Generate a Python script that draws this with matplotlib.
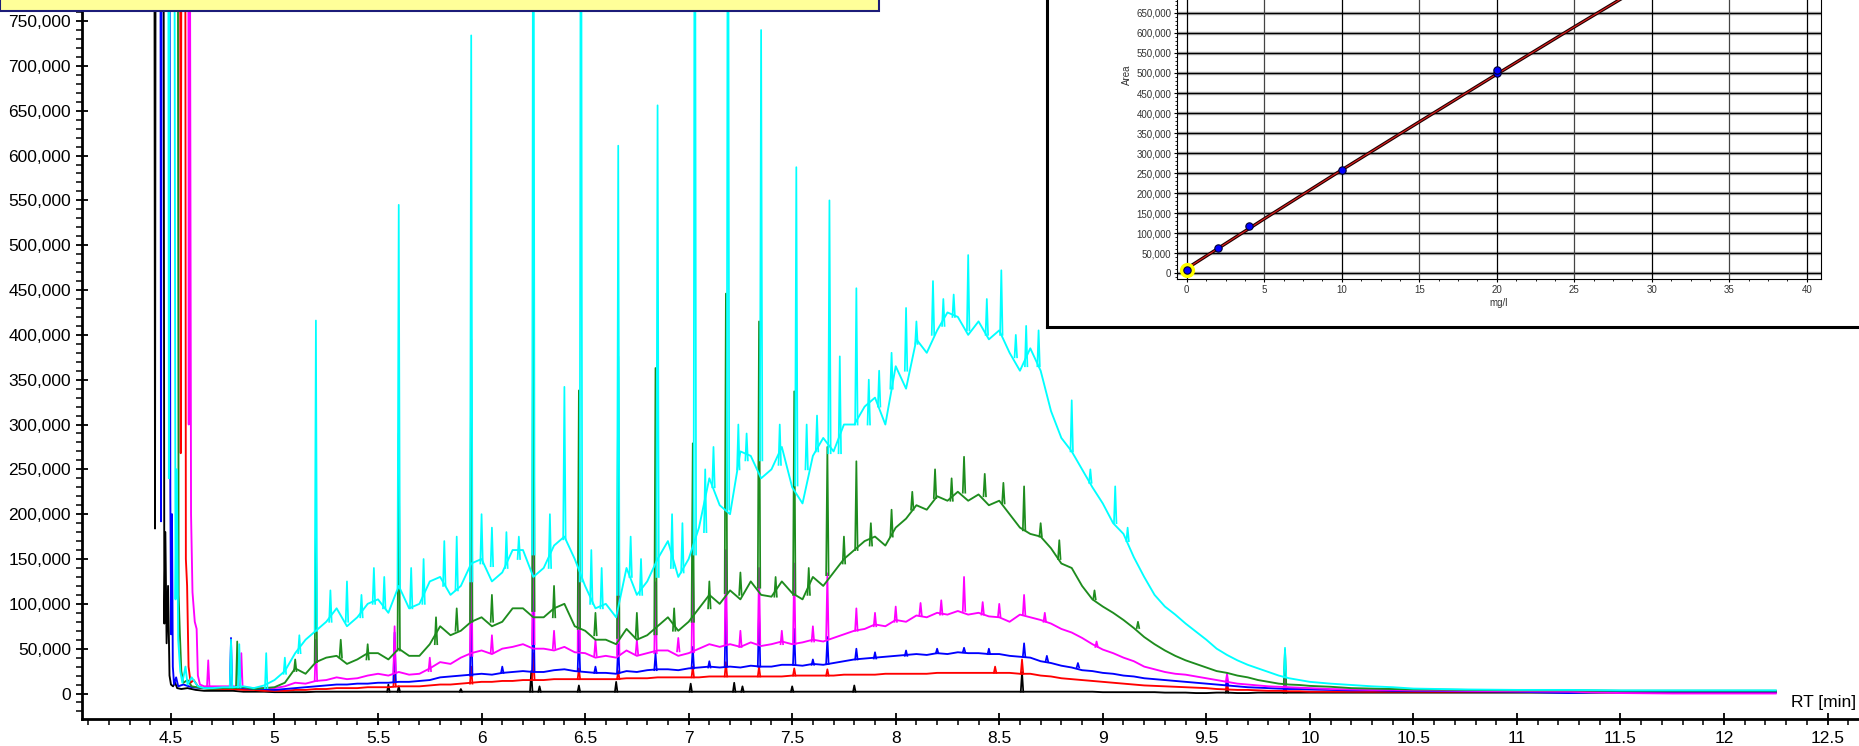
import matplotlib
matplotlib.use("Agg")
import matplotlib.pyplot as plt
from matplotlib.patches import Rectangle
from matplotlib.ticker import MultipleLocator, FixedLocator, FuncFormatter

plt.rcParams['font.family'] = ['Liberation Sans', 'DejaVu Sans']

rt = [4.70, 4.75, 4.80, 4.85, 4.90, 4.95, 5.00, 5.05, 5.10, 5.15,
      5.20, 5.25, 5.30, 5.35, 5.40, 5.45, 5.50, 5.55, 5.60, 5.65,
      5.70, 5.75, 5.80, 5.85, 5.90, 5.95, 6.00, 6.05, 6.10, 6.15,
      6.20, 6.25, 6.30, 6.35, 6.40, 6.45, 6.50, 6.55, 6.60, 6.65,
      6.70, 6.75, 6.80, 6.85, 6.90, 6.95, 7.00, 7.05, 7.10, 7.15,
      7.20, 7.25, 7.30, 7.35, 7.40, 7.45, 7.50, 7.55, 7.60, 7.65,
      7.70, 7.75, 7.80, 7.85, 7.90, 7.95, 8.00, 8.05, 8.10, 8.15,
      8.20, 8.25, 8.30, 8.35, 8.40, 8.45, 8.50, 8.55, 8.60, 8.65,
      8.70, 8.75, 8.80, 8.85, 8.90, 8.95, 9.00, 9.05, 9.10, 9.15,
      9.20, 9.25, 9.30, 9.35, 9.40, 9.45, 9.50, 9.55, 9.60, 9.65,
      9.70, 9.75, 9.80, 9.85, 9.90, 9.95, 10.00,
      10.1, 10.2, 10.3, 10.4, 10.5, 10.75, 11.0, 11.25, 11.5, 11.75, 12.0, 12.25]

# hump intensities, in thousands of counts
black_k = [3, 3, 3, 2, 2, 2, 1.5, 1.5, 1.5, 1.5,
           2, 2, 2, 2, 2, 2, 2, 2, 2, 2,
           2, 2, 2, 2, 2, 2, 2, 2, 2, 2,
           2, 2, 2, 2, 2, 2, 2, 2, 2, 2,
           2, 2, 2, 2, 2, 2, 2, 2, 2, 2,
           2, 2, 2, 2, 2, 2, 2, 2, 2, 2,
           2, 2, 2, 2, 2, 2, 2, 2, 2, 2,
           2, 2, 2, 2, 2, 2, 2, 2, 2, 2,
           2, 2, 2, 2, 2, 2, 1.5, 1.5, 1.5, 1.5,
           1.5, 1.5, 1, 1, 1, 0.5, 0.5, 1, 1, 0.5,
           0.5, 1, 1, 1, 1, 1, 1,
           1, 1, 1, 1, 1, 1, 1, 1, 1, 1, 1, 1]
red_k = [5, 5, 5, 4, 4, 3, 3, 3, 4, 4,
         5, 5, 6, 6, 6, 7, 7, 7, 8, 8,
         8, 9, 10, 10, 11, 12, 13, 13, 14, 14,
         15, 15, 15, 16, 16, 16, 16, 16, 16, 16,
         17, 17, 17, 18, 18, 18, 18, 18, 19, 19,
         19, 19, 19, 19, 19, 19, 20, 20, 20, 20,
         20, 21, 21, 21, 21, 22, 22, 22, 22, 22,
         23, 23, 23, 23, 23, 23, 23, 23, 22, 22,
         20, 19, 17, 16, 15, 14, 13, 12, 11, 10,
         9, 8.5, 8, 7.5, 7, 6.5, 6, 5, 4.5, 4,
         4, 3.5, 3, 3, 2.5, 2.5, 2,
         2, 2, 2, 2, 2, 2, 2, 2, 2, 2, 2, 2]
blue_k = [6, 6, 7, 6, 5, 5, 4, 5, 6, 7,
          8, 9, 10, 10, 11, 11, 12, 12, 13, 13,
          14, 15, 18, 19, 20, 21, 22, 21, 23, 24,
          25, 24, 24, 26, 27, 25, 24, 23, 23, 22,
          25, 24, 26, 27, 27, 26, 28, 29, 30, 29,
          30, 29, 31, 30, 30, 32, 32, 31, 33, 32,
          34, 36, 38, 39, 40, 41, 42, 43, 44, 43,
          45, 44, 46, 45, 45, 44, 44, 42, 41, 40,
          36, 34, 31, 29, 26, 25, 23, 22, 20, 19,
          17, 16, 15, 14, 13, 12, 11, 10, 9, 8,
          7, 6.5, 6, 5.5, 5, 5, 4.5,
          4, 3.5, 3.5, 3, 3, 2.5, 2, 0.5, 2, 2, 2, 2]
magenta_k = [8, 8, 8, 7, 6, 6, 6, 8, 12, 11,
             14, 15, 18, 16, 17, 20, 22, 20, 24, 21,
             22, 28, 35, 33, 40, 45, 48, 44, 50, 52,
             55, 50, 50, 48, 52, 46, 45, 40, 42, 40,
             48, 42, 45, 48, 48, 42, 45, 50, 55, 52,
             55, 52, 57, 53, 55, 58, 55, 57, 60, 58,
             62, 66, 70, 72, 77, 75, 82, 80, 87, 85,
             90, 88, 92, 88, 90, 86, 85, 80, 88, 85,
             82, 78, 72, 68, 62, 55, 49, 45, 40, 36,
             30, 27, 24, 22, 21, 19, 17, 15, 13, 11,
             10, 9, 8, 7.5, 7, 6.5, 6,
             5, 4.5, 4, 4, 3.5, 3, 2.5, 2, 0.5, 0, 0, 0]
green_k = [5, 6, 6, 7, 5, 6, 7, 12, 28, 22,
           35, 40, 42, 33, 38, 45, 45, 38, 50, 42,
           42, 55, 75, 65, 70, 80, 85, 75, 80, 95,
           95, 85, 85, 95, 100, 75, 70, 60, 60, 55,
           72, 60, 65, 75, 85, 70, 80, 95, 110, 100,
           115, 105, 125, 110, 108, 125, 112, 105, 130, 120,
           135, 150, 160, 170, 175, 165, 185, 195, 210, 205,
           220, 215, 225, 215, 222, 210, 215, 200, 185, 178,
           175, 162, 145, 140, 120, 105, 97, 90, 82, 73,
           63, 55, 48, 42, 37, 33, 29, 25, 23, 20,
           18, 15, 13, 11, 10, 9.5, 8.5,
           7.5, 6, 5.5, 5, 4.5, 4, 3.5, 3.5, 3, 3, 3, 3]
cyan_k = [6, 7, 7, 8, 6, 9, 15, 25, 45, 60,
          70, 80, 95, 75, 85, 100, 105, 90, 120, 95,
          100, 125, 130, 110, 120, 145, 150, 125, 135, 160,
          160, 130, 140, 165, 175, 150, 120, 95, 100, 85,
          140, 110, 125, 150, 170, 130, 150, 185, 240, 210,
          200, 270, 265, 240, 250, 275, 230, 212, 265, 285,
          270, 300, 300, 320, 330, 300, 365, 340, 395, 380,
          405, 425, 420, 400, 415, 395, 405, 380, 360, 385,
          360, 315, 285, 270, 250, 230, 212, 190, 178, 152,
          130, 110, 97, 88, 78, 69, 60, 50, 43, 37,
          32, 28, 24, 20, 17, 15, 13,
          11, 9.5, 8, 7, 5.5, 4.5, 4, 4, 3.5, 3.5, 3.5, 3.5]

# solvent front (rt, thousands); 1200 = off scale
black_front = [(4.419, 1200), (4.423, 184), (4.427, 1200), (4.463, 1200), (4.468, 78),
               (4.473, 180), (4.479, 56), (4.486, 120), (4.493, 20), (4.50, 10),
               (4.51, 8), (4.52, 12), (4.53, 6), (4.55, 5), (4.58, 6), (4.62, 4), (4.66, 3)]
red_front = [(4.543, 1200), (4.547, 268), (4.552, 1200), (4.568, 1200), (4.572, 150),
             (4.578, 120), (4.585, 30), (4.595, 12), (4.61, 15), (4.63, 8), (4.66, 6)]
blue_front = [(4.448, 1200), (4.452, 192), (4.456, 1200), (4.492, 1200), (4.497, 220),
              (4.501, 66), (4.505, 200), (4.509, 30), (4.515, 10), (4.525, 18),
              (4.535, 8), (4.56, 10), (4.60, 7), (4.65, 6)]
magenta_front = [(4.583, 1200), (4.586, 300), (4.589, 1200), (4.597, 200), (4.604, 113),
                 (4.615, 80), (4.624, 72), (4.63, 20), (4.64, 10), (4.66, 8)]
green_front = [(4.525, 1200), (4.532, 1200), (4.537, 110), (4.543, 67), (4.55, 25),
               (4.56, 12), (4.58, 15), (4.60, 8), (4.65, 6)]
cyan_front = [(4.486, 1200), (4.490, 240), (4.495, 1200), (4.515, 1200), (4.522, 105),
              (4.528, 250), (4.535, 60), (4.545, 25), (4.555, 12), (4.57, 30),
              (4.58, 10), (4.60, 18), (4.63, 8), (4.66, 6)]

# sharp peaks: (rt, foot, apex) in thousands
black_peaks = [(5.55, 2, 10), (5.60, 2, 8), (5.90, 2, 5), (6.24, 2, 25), (6.28, 2, 8),
               (6.47, 2, 9), (6.65, 2, 13), (7.01, 2, 11), (7.22, 2, 12), (7.26, 2, 8),
               (7.50, 2, 8), (7.80, 2, 9), (8.61, 2, 24), (9.60, 1, 8), (9.88, 1, 35)]
red_peaks = [(5.58, 8, 25), (5.95, 11, 30), (6.25, 15, 45), (6.47, 16, 28), (6.66, 16, 25),
             (7.02, 18, 30), (7.18, 19, 35), (7.34, 19, 30), (7.51, 20, 28), (7.67, 20, 27),
             (8.48, 23, 30), (8.61, 22, 38), (9.60, 4.5, 12), (9.88, 2.5, 19)]
blue_peaks = [(4.79, 7, 62), (5.58, 13, 68), (5.95, 20, 100), (6.10, 23, 30), (6.25, 25, 120),
              (6.47, 25, 70), (6.55, 23, 30), (6.66, 23, 55), (6.84, 26, 45), (7.02, 28, 52),
              (7.10, 29, 36), (7.18, 30, 108), (7.34, 30, 93), (7.51, 32, 72), (7.60, 32, 38),
              (7.67, 33, 63), (7.81, 38, 50), (7.90, 39, 46), (8.05, 42, 48), (8.20, 45, 50),
              (8.33, 46, 51), (8.45, 44, 50), (8.62, 41, 56), (8.73, 36, 42), (8.88, 29, 34),
              (9.60, 9, 16), (9.88, 5, 23)]
magenta_peaks = [(4.68, 8, 37), (4.84, 8, 45), (5.20, 14, 60), (5.58, 23, 75), (5.75, 25, 40),
                 (5.95, 42, 190), (6.05, 45, 65), (6.25, 55, 250), (6.35, 50, 70),
                 (6.47, 48, 212), (6.55, 42, 60), (6.66, 43, 145), (6.75, 44, 60),
                 (6.84, 45, 124), (6.95, 47, 62), (7.02, 46, 160), (7.18, 55, 160),
                 (7.25, 52, 70), (7.34, 56, 140), (7.45, 55, 70), (7.51, 55, 145),
                 (7.60, 58, 75), (7.67, 61, 134), (7.81, 70, 95), (7.90, 75, 90),
                 (8.00, 80, 97), (8.12, 87, 101), (8.22, 88, 104), (8.33, 92, 130),
                 (8.42, 88, 102), (8.50, 86, 100), (8.62, 88, 110), (8.72, 80, 90),
                 (8.97, 52, 58), (9.60, 13, 22), (9.88, 7, 23)]
green_peaks = [(4.82, 6, 58), (5.10, 25, 38), (5.20, 35, 181), (5.32, 40, 60), (5.45, 38, 55),
               (5.60, 48, 290), (5.78, 55, 85), (5.88, 70, 95), (5.95, 80, 395),
               (6.05, 80, 110), (6.25, 92, 500), (6.35, 85, 120), (6.47, 72, 338),
               (6.55, 65, 90), (6.66, 62, 376), (6.75, 62, 90), (6.84, 66, 363),
               (6.93, 70, 95), (7.02, 80, 279), (7.10, 95, 125), (7.18, 112, 446),
               (7.25, 110, 135), (7.34, 118, 415), (7.42, 108, 130), (7.51, 110, 337),
               (7.58, 110, 140), (7.67, 132, 275), (7.75, 145, 175), (7.81, 160, 259),
               (7.88, 165, 190), (7.98, 175, 205), (8.08, 205, 225), (8.19, 218, 250),
               (8.27, 215, 240), (8.33, 224, 264), (8.43, 220, 245), (8.52, 212, 235),
               (8.62, 182, 231), (8.70, 175, 190), (8.79, 150, 171), (8.96, 105, 115),
               (9.17, 73, 80), (9.88, 10, 49)]
cyan_peaks = [(4.79, 7, 60), (4.83, 7, 55), (4.96, 6, 45), (5.05, 22, 40), (5.12, 45, 65),
              (5.20, 70, 416), (5.27, 80, 115), (5.35, 80, 125), (5.42, 85, 110),
              (5.48, 100, 140), (5.53, 95, 130), (5.60, 118, 545), (5.66, 95, 140),
              (5.72, 100, 150), (5.82, 120, 170), (5.88, 115, 175), (5.95, 125, 734),
              (6.00, 145, 200), (6.05, 142, 185), (6.12, 140, 180), (6.18, 150, 175),
              (6.25, 155, 1200), (6.33, 140, 200), (6.40, 172, 342), (6.48, 125, 1200),
              (6.53, 100, 160), (6.58, 95, 140), (6.66, 110, 611), (6.72, 130, 175),
              (6.77, 110, 150), (6.85, 130, 656), (6.92, 140, 200), (6.97, 135, 190),
              (7.03, 155, 1200), (7.08, 180, 250), (7.12, 230, 275), (7.19, 205, 1200),
              (7.24, 250, 300), (7.28, 260, 290), (7.35, 260, 740), (7.44, 255, 300),
              (7.52, 232, 587), (7.57, 250, 300), (7.62, 270, 310), (7.68, 268, 550),
              (7.73, 268, 376), (7.81, 300, 452), (7.87, 300, 350), (7.92, 320, 360),
              (7.98, 340, 380), (8.05, 360, 430), (8.10, 390, 415), (8.18, 400, 460),
              (8.23, 410, 440), (8.28, 420, 445), (8.35, 405, 489), (8.44, 400, 440),
              (8.51, 400, 472), (8.58, 375, 400), (8.63, 365, 410), (8.69, 365, 405),
              (8.85, 270, 327), (8.94, 235, 250), (9.06, 190, 231), (9.12, 170, 185),
              (9.88, 18, 51)]

traces = [
    ('#000000', black_front, black_k, black_peaks),
    ('#FF0000', red_front, red_k, red_peaks),
    ('#0000FF', blue_front, blue_k, blue_peaks),
    ('#FF00FF', magenta_front, magenta_k, magenta_peaks),
    ('#1E8C1E', green_front, green_k, green_peaks),
    ('#00FFFF', cyan_front, cyan_k, cyan_peaks),
]

# calibration inset
cal_conc = [0, 2, 4, 10, 20, 20]
cal_area = [7000, 63000, 117000, 258000, 500000, 507000]
fit_conc = [0, 5, 10, 15, 20, 25, 30]
fit_area = [12000, 136000, 258000, 378000, 497000, 615000, 731000]
cal_yticks = [0, 50000, 100000, 150000, 200000, 250000, 300000, 350000,
              400000, 450000, 500000, 550000, 600000, 650000]

W, H = 1859, 746
fig = plt.figure(figsize=(W / 100, H / 100), dpi=100)

ax = fig.add_axes([81.5 / W, 27 / H, 1 - 81.5 / W, 1 - 27 / H])
for color, front, hump, peaks in traces:
    t = [p[0] for p in front] + rt
    v = [p[1] * 1000 for p in front] + [h * 1000 for h in hump]
    ax.plot(t, v, color=color, lw=1.35)
    for pt, foot, apex in peaks:
        ax.plot([pt - 0.006, pt, pt + 0.006], [foot * 1000, apex * 1000, foot * 1000],
                color=color, lw=1.25)

ax.set_xlim(4.068, 12.652)
ax.set_ylim(-28440, 773480)
ax.spines['top'].set_visible(False)
ax.spines['right'].set_visible(False)
ax.spines['left'].set_linewidth(2)
ax.spines['bottom'].set_linewidth(2)
ax.xaxis.set_major_locator(MultipleLocator(0.5))
ax.xaxis.set_minor_locator(MultipleLocator(0.1))
ax.yaxis.set_major_locator(MultipleLocator(50000))
ax.yaxis.set_minor_locator(MultipleLocator(10000))
ax.xaxis.set_major_formatter(FuncFormatter(lambda v, p: f'{v:g}'))
ax.yaxis.set_major_formatter(FuncFormatter(lambda v, p: f'{v:,.0f}'))
ax.tick_params(which='major', direction='inout', length=9, width=1.3, labelsize=12.5)
ax.tick_params(which='minor', direction='out', length=4, width=1.1)
ax.tick_params(axis='y', which='major', pad=3)
ax.tick_params(axis='x', which='major', pad=4)
fig.text(1856 / W, 1 - 703 / H, 'RT [min]', ha='right', va='center', fontsize=12.5)

# yellow header strip, cut off at the top
fig.add_artist(Rectangle((0, 1 - 11 / H), 879 / W, 30 / H, transform=fig.transFigure,
                         facecolor='#FFFF99', edgecolor='#1C1C78', lw=1.5, zorder=10))

# white frame holding the calibration plot
box = fig.add_axes([1046.5 / W, 1 - 327 / H, 0.5, 0.5])
box.set_xticks([])
box.set_yticks([])
for s in box.spines.values():
    s.set_linewidth(2.2)

ins_font = ['Liberation Sans Narrow', 'Liberation Sans', 'DejaVu Sans']
ins = fig.add_axes([1177 / W, 1 - 279.3 / H, (1820.7 - 1177) / W, (279.3 + 129.3) / H])
ins.set_xlim(-0.63, 40.9)
ins.set_ylim(-15000, 1005000)
ins.xaxis.set_major_locator(MultipleLocator(5))
ins.xaxis.set_minor_locator(MultipleLocator(1.25))
ins.yaxis.set_major_locator(FixedLocator(cal_yticks))
ins.yaxis.set_minor_locator(MultipleLocator(10000))
ins.yaxis.set_major_formatter(FuncFormatter(lambda v, p: f'{v:,.0f}'))
ins.xaxis.set_major_formatter(FuncFormatter(lambda v, p: f'{v:g}'))
for yv in cal_yticks:
    ins.axhline(yv, color='#a0a0a0', lw=2.4, zorder=0.5)
    ins.axhline(yv, color='black', lw=0.8, zorder=0.6)
for xv in ins.get_xticks():
    ins.axvline(xv, color='black' if xv % 10 == 0 else '#444444', lw=0.9, zorder=0.6)
ins.plot(fit_conc, fit_area, color='#200000', lw=2.4, zorder=2)
ins.plot(fit_conc, fit_area, color='#E02020', lw=0.8, zorder=3)
ins.scatter(cal_conc[:1], cal_area[:1], s=120, color='#FFFF00', zorder=4, lw=0)
ins.scatter(cal_conc, cal_area, s=28, color='#0000FF', edgecolors='#000033', lw=0.8, zorder=5)
ins.tick_params(which='major', length=2.5, width=0.8, pad=1.5, labelsize=7, labelcolor='#333333')
ins.tick_params(which='minor', length=1.5, width=0.6)
for lab in ins.get_xticklabels() + ins.get_yticklabels():
    lab.set_family(ins_font)
ins.set_xlabel('mg/l', fontsize=7, color='#333333', labelpad=2, family=ins_font)
ins.set_ylabel('Area', fontsize=7, color='#333333', labelpad=3, family=ins_font)

fig.savefig('out.png', dpi=100)
